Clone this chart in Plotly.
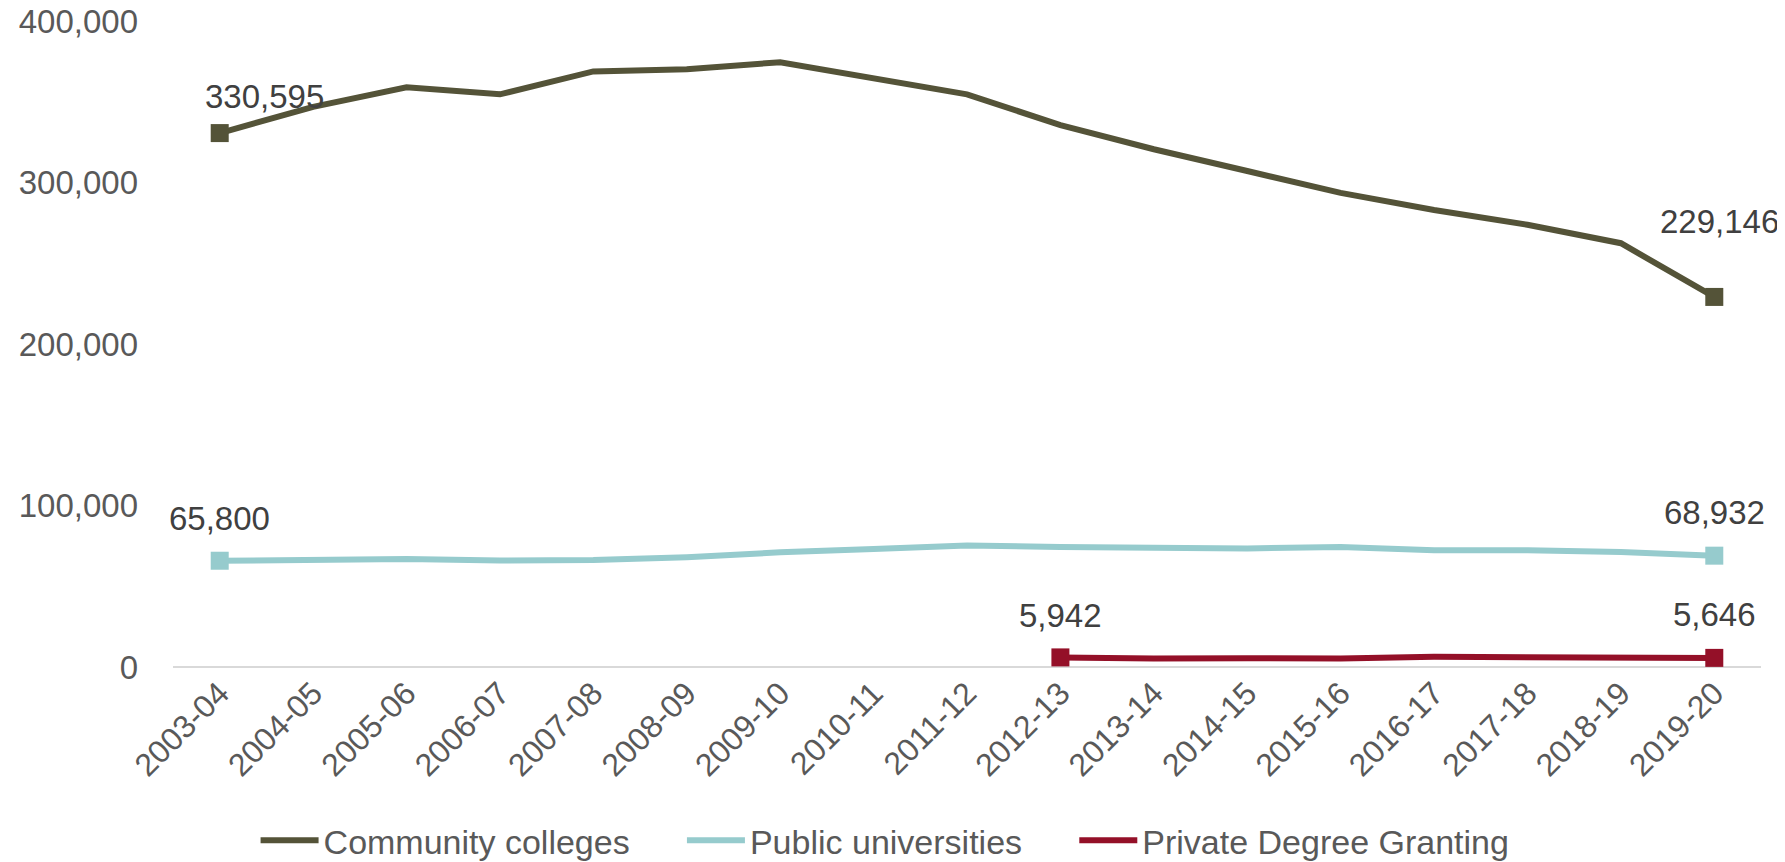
import plotly.graph_objects as go

years = ['2003-04', '2004-05', '2005-06', '2006-07', '2007-08', '2008-09',
         '2009-10', '2010-11', '2011-12', '2012-13', '2013-14', '2014-15',
         '2015-16', '2016-17', '2017-18', '2018-19', '2019-20']

community = [330595, 346800, 358900, 354600, 368800, 370200, 374500, 364500,
             354600, 335500, 320600, 307100, 293600, 283000, 273800, 262400, 229146]

public = [65800, 66200, 66800, 65900, 66200, 68000, 71000, 73000, 75200,
          74300, 74100, 73400, 74300, 72300, 72300, 71200, 68932]

private_years = years[9:]
private = [5942, 5200, 5400, 5300, 6300, 5800, 5700, 5646]

FONT = "Liberation Sans, Arial, sans-serif"
C_COMM = '#545338'
C_PUB = '#96CBCD'
C_PRIV = '#941028'
PAD = '\u00a0' * 5  # extra room between legend entries

fig = go.Figure()

series = [
    ('Community colleges', years, community, C_COMM),
    ('Public universities', years, public, C_PUB),
    ('Private Degree Granting', private_years, private, C_PRIV),
]

for name, xs, ys, col in series:
    fig.add_trace(go.Scatter(x=xs, y=ys, name=name + PAD, mode='lines',
                             line=dict(color=col, width=6)))
    # square markers on the end points only
    fig.add_trace(go.Scatter(x=[xs[0], xs[-1]], y=[ys[0], ys[-1]], mode='markers',
                             marker=dict(symbol='square', size=18, color=col),
                             showlegend=False, hoverinfo='skip'))

# end-point value labels (shifted like the hand-placed Excel labels)
labels = [
    (years[0], community[0], 45, 37),
    (years[-1], community[-1], 5, 75),
    (years[0], public[0], 0, 42),
    (years[-1], public[-1], 0, 43),
    (private_years[0], private[0], 0, 42),
    (private_years[-1], private[-1], 0, 43),
]
for x, y, dx, dy in labels:
    fig.add_annotation(x=x, y=y, text=f"{y:,}", showarrow=False,
                       xshift=dx, yshift=dy,
                       font=dict(family=FONT, size=33, color='#404040'))

# faint border strip at the right edge of the original image
for y0, y1 in [(1.033, 0.598), (0.412, -0.148)]:
    fig.add_shape(type='line', xref='paper', yref='paper', x0=1.0115, x1=1.0115,
                  y0=y0, y1=y1, line=dict(color='#ebebeb', width=3), layer='below')

fig.update_layout(
    width=1785, height=862,
    margin=dict(l=165, r=32, t=13, b=203, autoexpand=False),
    paper_bgcolor='white', plot_bgcolor='white',
    font=dict(family=FONT, size=33, color='#595959'),
    showlegend=True,
    legend=dict(orientation='h', x=0.052, xanchor='left', y=-0.269, yanchor='middle',
                itemwidth=58,
                font=dict(family=FONT, size=34, color='#595959')),
)
fig.update_xaxes(type='category', range=[-0.5, 16.5], tickangle=-45,
                 showgrid=False, showline=False, zeroline=False, ticks='',
                 automargin=False, ticklabeloverflow='allow',
                 tickfont=dict(family=FONT, size=32, color='#595959'))
fig.update_yaxes(range=[0, 400000], dtick=100000, tickformat=',',
                 showgrid=False, zeroline=True, zerolinecolor='#d9d9d9',
                 zerolinewidth=2, showline=False, ticks='',
                 automargin=False, ticklabelstandoff=34, ticklabeloverflow='allow',
                 tickfont=dict(family=FONT, size=33, color='#595959'))

fig.write_html("out.html")
